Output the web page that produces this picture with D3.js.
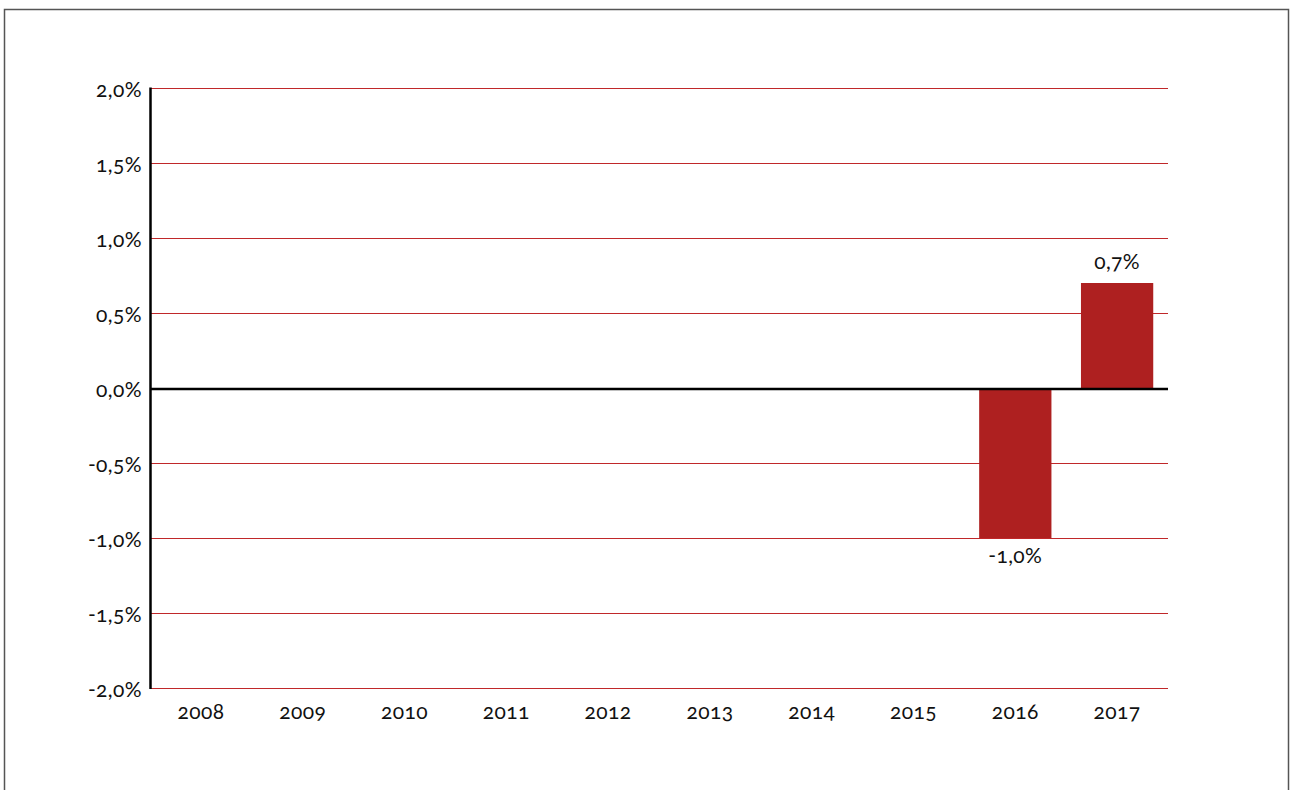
<!DOCTYPE html>
<html>
<head>
<meta charset="utf-8">
<script src="https://cdn.jsdelivr.net/npm/d3@7"></script>
<style>
  body { margin: 0; background: #fff; }
  svg text { font-family: Lato, "Open Sans", sans-serif; font-variant-numeric: oldstyle-nums; fill: #111; letter-spacing: 0.4px; }
</style>
</head>
<body>
<div class="chart"></div>
<script>
// years on the x axis
var years = ["2008", "2009", "2010", "2011", "2012", "2013", "2014", "2015", "2016", "2017"];
// change in percent, null = no bar
var values = [null, null, null, null, null, null, null, null, -1.0, 0.7];
var yTicks = [-2.0, -1.5, -1.0, -0.5, 0.0, 0.5, 1.0, 1.5, 2.0];

var width = 1290, height = 790;
var plot = { left: 150, right: 1168, top: 88, bottom: 688 };

var svg = d3.select(".chart")
    .append("svg")
    .attr("width", width)
    .attr("height", height);

// frame round the whole picture (bottom runs off the page)
svg.append("rect")
    .attr("x", 4.5).attr("y", 9.5)
    .attr("width", 1284).attr("height", 800)
    .attr("fill", "none")
    .attr("stroke", "#555")
    .attr("stroke-width", 1.5);

var x = d3.scaleBand()
    .domain(years)
    .range([plot.left, plot.right])
    .paddingInner(0.29)
    .paddingOuter(0.145);

var y = d3.scaleLinear()
    .domain([-2, 2])
    .range([plot.bottom, plot.top]);

var fmt = function (d) { return d3.format(".1f")(d).replace(".", ",").replace("−", "-") + "%"; };
var fontSize = "21px";

// red grid lines
svg.append("g")
    .selectAll("line")
    .data(yTicks.filter(function (d) { return d !== 0; }))
    .enter()
    .append("line")
    .attr("x1", plot.left).attr("x2", plot.right)
    .attr("y1", function (d) { return Math.round(y(d)) + 0.5; })
    .attr("y2", function (d) { return Math.round(y(d)) + 0.5; })
    .attr("stroke", "#c0282a")
    .attr("stroke-width", 1.2);

// y tick labels
svg.append("g")
    .selectAll("text")
    .data(yTicks)
    .enter()
    .append("text")
    .attr("x", 142)
    .attr("y", function (d) { return y(d) + 8.5; })
    .attr("text-anchor", "end")
    .style("font-size", fontSize)
    .text(fmt);

// bars
svg.append("g")
    .selectAll("rect")
    .data(years.map(function (yr, i) { return { year: yr, v: values[i] }; }).filter(function (d) { return d.v !== null; }))
    .enter()
    .append("rect")
    .attr("x", function (d) { return x(d.year); })
    .attr("width", x.bandwidth())
    .attr("y", function (d) { return y(Math.max(0, d.v)); })
    .attr("height", function (d) { return Math.abs(y(d.v) - y(0)); })
    .attr("fill", "#ae2020");

// value labels
svg.append("g")
    .selectAll("text")
    .data(years.map(function (yr, i) { return { year: yr, v: values[i] }; }).filter(function (d) { return d.v !== null; }))
    .enter()
    .append("text")
    .attr("x", function (d) { return x(d.year) + x.bandwidth() / 2; })
    .attr("y", function (d) { return d.v >= 0 ? y(d.v) - 14 : y(d.v) + 25; })
    .attr("text-anchor", "middle")
    .style("font-size", fontSize)
    .text(function (d) { return fmt(d.v); });

// x labels
svg.append("g")
    .selectAll("text")
    .data(years)
    .enter()
    .append("text")
    .attr("x", function (d) { return x(d) + x.bandwidth() / 2; })
    .attr("y", 719)
    .attr("text-anchor", "middle")
    .style("font-size", fontSize)
    .text(function (d) { return d; });

// zero line and y axis line
svg.append("line")
    .attr("x1", plot.left).attr("x2", plot.right)
    .attr("y1", y(0) + 1).attr("y2", y(0) + 1)
    .attr("stroke", "#000").attr("stroke-width", 2.5);

svg.append("line")
    .attr("x1", plot.left + 0.5).attr("x2", plot.left + 0.5)
    .attr("y1", plot.top - 0.5).attr("y2", plot.bottom + 1)
    .attr("stroke", "#000").attr("stroke-width", 2.5);
</script>
</body>
</html>
